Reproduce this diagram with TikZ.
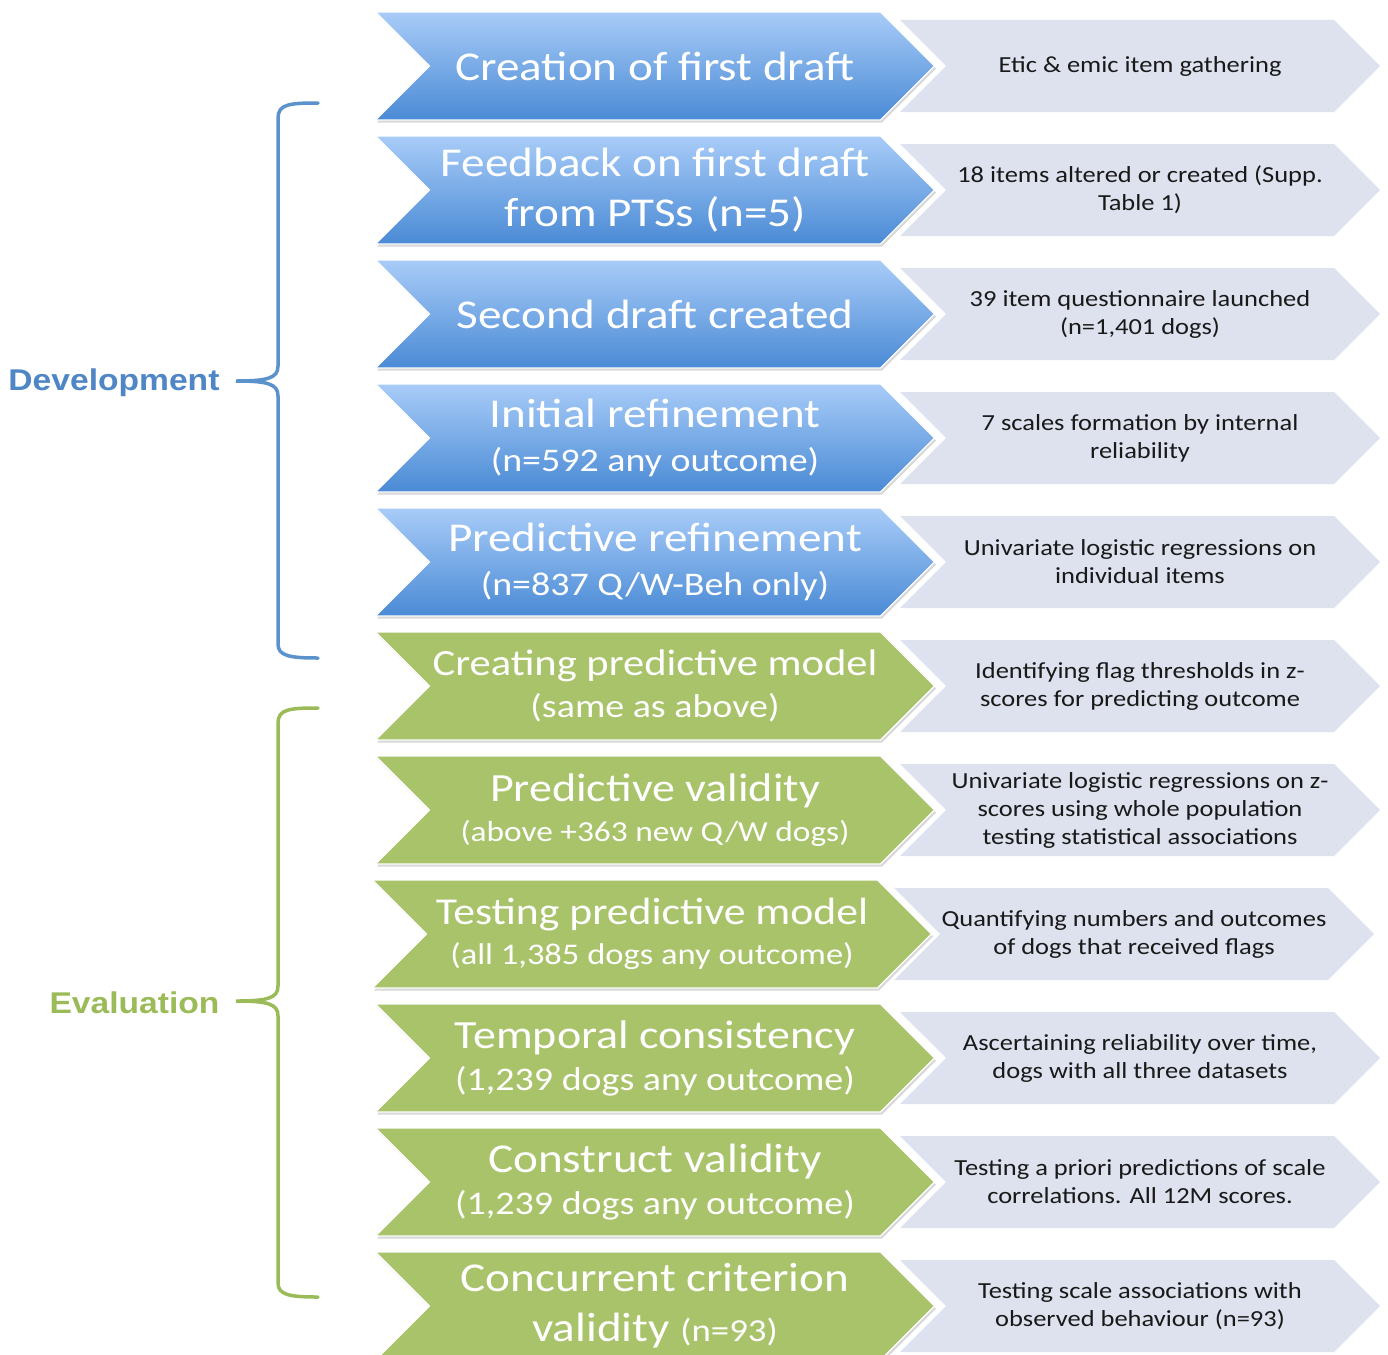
\documentclass[tikz,border=0pt]{standalone}
\usepackage{fontspec}
\setmainfont{Carlito}[FakeStretch=1.15]
\newfontfamily\labelfont{Liberation Sans}[FakeStretch=1.12]
\usetikzlibrary{shapes.symbols,shadows,positioning}
\definecolor{devblue}{HTML}{5B92CC}
\definecolor{devlabel}{HTML}{4F86C6}
\definecolor{devtop}{HTML}{A8CCF8}
\definecolor{devbot}{HTML}{4A8AD5}
\definecolor{evalgreen}{HTML}{A9C36B}
\definecolor{evallabel}{HTML}{9BBB59}
\definecolor{notegray}{HTML}{DDE2EE}
\newcommand{\subtext}[2]{{\fontsize{#1}{#1}\selectfont #2}}
\tikzset{
  stage/.style={shape=signal, signal to=east, signal from=west, signal pointer angle=90,
    minimum width=559pt, minimum height=108pt, inner sep=0pt, draw=white, line width=1.2pt,
    text=white, align=center, font=\fontsize{41}{50}\selectfont,
    drop shadow={shadow xshift=1.5pt, shadow yshift=-2.5pt, opacity=0.3}},
  devstage/.style={stage, top color=devtop, bottom color=devbot},
  evalstage/.style={stage, fill=evalgreen},
  note/.style={shape=signal, signal to=east, signal from=west, signal pointer angle=90,
    minimum width=480pt, minimum height=92pt, inner sep=0pt, fill=notegray,
    text=black!90, align=center, font=\fontsize{23}{28}\selectfont},
  phase/.style={anchor=east, font=\labelfont\bfseries\fontsize{30}{36}\selectfont},
  brace/.style={line width=3.5pt, line cap=round}
}
\begin{document}
\begin{tikzpicture}[x=1pt,y=-1pt]
  \useasboundingbox (0,0) rectangle (1388,1354);

  % Notes on the right
  \node[note] (n1) at (1140,66) {Etic \& emic item gathering};
  \node[note] (n2) at (1140,190) {18 items altered or created (Supp.\\Table 1)};
  \node[note] (n3) at (1140,314) {39 item questionnaire launched\\(n=1,401 dogs)};
  \node[note] (n4) at (1140,438) {7 scales formation by internal\\reliability};
  \node[note] (n5) at (1140,562) {Univariate logistic regressions on\\individual items};
  \node[note] (n6) at (1140,686) {Identifying flag thresholds in z-\\scores for predicting outcome};
  \node[note] (n7) at (1140,810) {Univariate logistic regressions on z-\\scores using whole population\\testing statistical associations};
  \node[note] (n8) at (1134,934) {Quantifying numbers and outcomes\\of dogs that received flags};
  \node[note] (n9) at (1140,1058) {Ascertaining reliability over time,\\dogs with all three datasets};
  \node[note] (n10) at (1140,1182) {Testing a priori predictions of scale\\correlations. All 12M scores.};
  \node[note] (n11) at (1140,1306) {Testing scale associations with\\observed behaviour (n=93)};

  % Development stages
  \node[devstage] (s1) at (655,66) {Creation of first draft};
  \node[devstage] (s2) at (655,190) {Feedback on first draft\\from PTSs (n=5)};
  \node[devstage] (s3) at (655,314) {Second draft created};
  \node[devstage] (s4) at (655,438) {Initial refinement\\[-6pt]\subtext{33}{(n=592 any outcome)}};
  \node[devstage] (s5) at (655,562) {Predictive refinement\\[-6pt]\subtext{33}{(n=837 Q/W-Beh only)}};

  % Evaluation stages
  \node[evalstage] (s6) at (655,686) {\subtext{37}{Creating predictive model}\\[-8pt]\subtext{33}{(same as above)}};
  \node[evalstage] (s7) at (655,810) {\subtext{40}{Predictive validity}\\[-10pt]\subtext{29}{(above +363 new Q/W dogs)}};
  \node[evalstage] (s8) at (652,934) {\subtext{38}{Testing predictive model}\\[-10pt]\subtext{30}{(all 1,385 dogs any outcome)}};
  \node[evalstage] (s9) at (655,1058) {\subtext{40}{Temporal consistency}\\[-8pt]\subtext{33}{(1,239 dogs any outcome)}};
  \node[evalstage] (s10) at (655,1182) {Construct validity\\[-8pt]\subtext{33}{(1,239 dogs any outcome)}};
  \node[evalstage] (s11) at (655,1306) {Concurrent criterion\\validity \subtext{32}{(n=93)}};

  % Phase braces
  \draw[brace, devblue] (318,103) .. controls (290,103) and (278,104) .. (278,118) -- (278,366)
    .. controls (278,378) and (268,381) .. (236,381) .. controls (268,381) and (278,384) .. (278,396)
    -- (278,644) .. controls (278,656) and (290,658) .. (318,658);
  \draw[brace, evallabel] (318,708) .. controls (290,708) and (278,709) .. (278,723) -- (278,986)
    .. controls (278,998) and (268,1001) .. (236,1001) .. controls (268,1001) and (278,1004) .. (278,1016)
    -- (278,1283) .. controls (278,1295) and (290,1297) .. (318,1297);

  % Phase labels
  \node[phase, devlabel] (dev) at (223,383) {Development};
  \node[phase, evallabel] (eval) at (223,1003) {Evaluation};
\end{tikzpicture}
\end{document}
